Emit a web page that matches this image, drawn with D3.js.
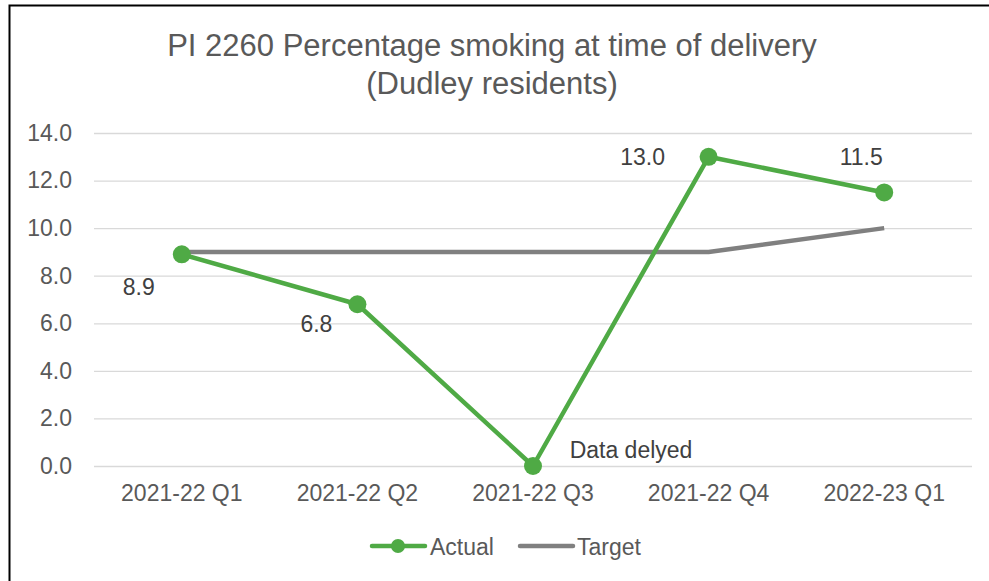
<!DOCTYPE html>
<html>
<head>
<meta charset="utf-8">
<script src="https://cdn.jsdelivr.net/npm/d3@7"></script>
<style>
  html, body { margin: 0; padding: 0; background: #fff; }
  svg { display: block; font-family: "Liberation Sans", Arial, sans-serif; }
</style>
</head>
<body>
<svg id="chart" width="989" height="581"></svg>
<script>
// Quarterly smoking-at-delivery figures
const quarters = ["2021-22 Q1", "2021-22 Q2", "2021-22 Q3", "2021-22 Q4", "2022-23 Q1"];
const actual = [8.9, 6.8, 0.0, 13.0, 11.5];
const target = [9, 9, 9, 9, 10];
const yTicks = [0, 2, 4, 6, 8, 10, 12, 14];
const pointLabels = ["8.9", "6.8", "Data delyed", "13.0", "11.5"];

const svg = d3.select("#chart");
const W = 989, H = 581;
const textColor = "#595959";
const green = "#4FAA45";
const grey = "#808080";
const font = "Liberation Sans, Arial, sans-serif";

// Outer frame
svg.append("rect")
  .attr("x", 9.5).attr("y", 5.5)
  .attr("width", W + 10).attr("height", H + 10)
  .attr("fill", "none").attr("stroke", "#000").attr("stroke-width", 2);

const plot = { left: 94, right: 972, top: 133, bottom: 466 };

const x = d3.scaleBand().domain(quarters).range([plot.left, plot.right]);
const y = d3.scaleLinear().domain([0, 14]).range([plot.bottom, plot.top]);
const cx = q => x(q) + x.bandwidth() / 2;

// Title
const title = svg.append("text")
  .attr("text-anchor", "middle").attr("fill", textColor)
  .attr("font-size", 31);
title.append("tspan").attr("x", 492).attr("y", 56).text("PI 2260 Percentage smoking at time of delivery");
title.append("tspan").attr("x", 492).attr("y", 94).text("(Dudley residents)");

// Horizontal gridlines and value axis
const yAxis = d3.axisLeft(y).tickValues(yTicks).tickFormat(d3.format(".1f"))
  .tickSize(-(plot.right - plot.left)).tickPadding(22);
const gy = svg.append("g").attr("transform", `translate(${plot.left},0)`).call(yAxis);
gy.select(".domain").remove();
gy.selectAll(".tick line").attr("stroke", "#d9d9d9").attr("stroke-width", 1.3);
gy.selectAll(".tick text").attr("fill", textColor).attr("font-size", 23)
  .attr("font-family", font);

// Category axis
const xAxis = d3.axisBottom(x).tickSize(0).tickPadding(19);
const gx = svg.append("g").attr("transform", `translate(0,${plot.bottom})`).call(xAxis);
gx.select(".domain").remove();
gx.selectAll(".tick text").attr("fill", textColor).attr("font-size", 23)
  .attr("font-family", font);

// Target line
const line = d3.line().x((d, i) => cx(quarters[i])).y(d => y(d));
svg.append("path").datum(target)
  .attr("d", line).attr("fill", "none")
  .attr("stroke", grey).attr("stroke-width", 4.5).attr("stroke-linejoin", "round");

// Actual line with markers
svg.append("path").datum(actual)
  .attr("d", line).attr("fill", "none")
  .attr("stroke", green).attr("stroke-width", 4.5).attr("stroke-linejoin", "round");
svg.selectAll("circle.pt").data(actual).enter().append("circle")
  .attr("class", "pt")
  .attr("cx", (d, i) => cx(quarters[i])).attr("cy", d => y(d))
  .attr("r", 9).attr("fill", green);

// Data labels (centre x, baseline offsets from each point)
const labelOffsets = [[-43, 41], [-41, 28], [98, -8], [-66, 8], [-23, -27]];
svg.selectAll("text.lbl").data(actual).enter().append("text")
  .attr("class", "lbl")
  .attr("text-anchor", "middle")
  .attr("x", (d, i) => cx(quarters[i]) + labelOffsets[i][0])
  .attr("y", (d, i) => y(d) + labelOffsets[i][1])
  .attr("fill", "#404040").attr("font-size", 23)
  .text((d, i) => pointLabels[i]);

// Legend
const lg = svg.append("g");
lg.append("line").attr("x1", 372).attr("x2", 425).attr("y1", 546).attr("y2", 546)
  .attr("stroke", green).attr("stroke-width", 4.5).attr("stroke-linecap", "round");
lg.append("circle").attr("cx", 398).attr("cy", 546).attr("r", 7).attr("fill", green);
lg.append("text").attr("x", 430).attr("y", 555).attr("fill", textColor)
  .attr("font-size", 23).text("Actual");
lg.append("line").attr("x1", 520).attr("x2", 573).attr("y1", 546).attr("y2", 546)
  .attr("stroke", grey).attr("stroke-width", 4.5).attr("stroke-linecap", "round");
lg.append("text").attr("x", 577).attr("y", 555).attr("fill", textColor)
  .attr("font-size", 23).text("Target");
</script>
</body>
</html>
